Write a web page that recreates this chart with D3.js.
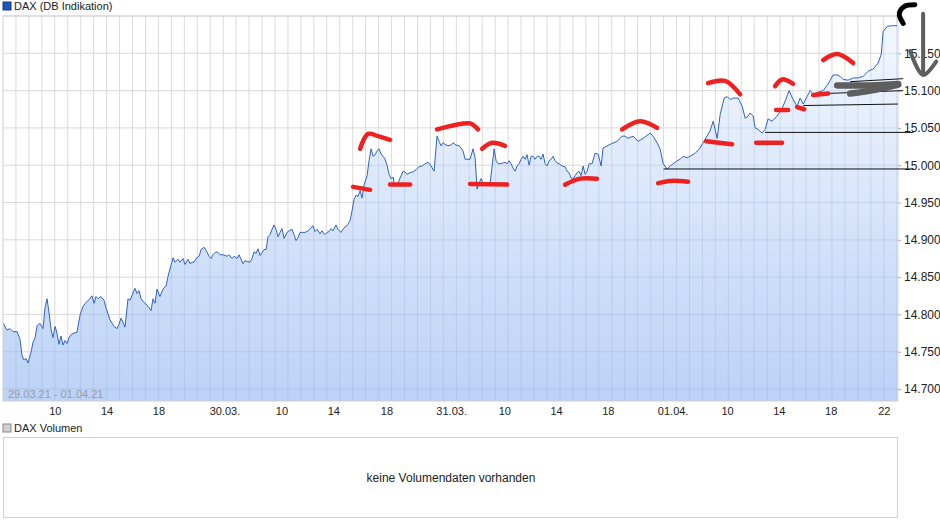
<!DOCTYPE html>
<html><head><meta charset="utf-8">
<script src="https://cdn.jsdelivr.net/npm/d3@7"></script>
<style>body{margin:0;background:#fff;font-family:Arial,"Liberation Sans",sans-serif}</style>
</head><body><svg id="c" width="940" height="526"></svg>
<script>
// compressed trading hours since start
const times=[0,.31,.54,.77,1.08,1.31,1.47,1.62,1.78,1.93,2.16,2.32,2.47,2.63,2.86,3.09,3.24,3.40,3.55,3.71,3.86,4.02,4.17,4.32,4.48,4.63,4.79,4.94,5.10,5.25,5.48,5.71,5.95,6.18,6.41,6.64,6.87,7.03,7.18,7.34,7.57,7.80,7.95,8.26,8.57,8.80,8.96,9.11,9.27,9.42,9.65,9.81,10.04,10.19,10.35,10.50,10.66,10.89,11.20,11.43,11.58,11.74,11.89,12.12,12.28,12.43,12.59,12.74,12.97,13.13,13.28,13.51,13.67,13.90,14.05,14.29,14.44,14.59,14.75,14.90,15.14,15.29,15.52,15.68,15.91,16.06,16.22,16.45,16.60,16.76,16.99,17.30,17.45,17.68,17.84,18.07,18.22,18.38,18.53,18.69,18.84,19.07,19.23,19.38,19.54,19.69,19.85,20.00,20.15,20.31,20.46,20.62,20.77,20.93,21.08,21.24,21.39,21.54,21.70,21.93,22.08,22.32,22.47,22.63,22.78,22.93,23.09,23.32,23.55,23.78,23.94,24.09,24.25,24.48,24.63,24.86,25.02,25.17,25.33,25.48,25.71,25.87,26.10,26.33,26.56,26.80,26.95,27.10,27.26,27.41,27.57,27.72,27.88,28.11,28.26,28.42,28.57,28.73,28.88,29.03,29.19,29.34,29.50,29.65,29.81,29.96,30.12,30.19,30.35,30.50,30.66,30.89,31.04,31.20,31.43,31.66,31.89,32.12,32.36,32.59,32.82,33.05,33.28,33.51,33.67,33.82,33.98,34.13,34.36,34.59,34.75,34.98,35.21,35.37,35.52,35.68,36.06,36.29,36.45,36.60,36.76,36.91,37.07,37.37,37.61,37.92,38.07,38.22,38.38,38.61,38.76,38.92,39.07,39.23,39.38,39.54,39.69,39.85,40.00,40.15,40.31,40.46,40.62,40.77,40.93,41.08,41.24,41.39,41.54,41.70,41.85,42.01,42.16,42.32,42.47,42.63,42.78,42.93,43.17,43.40,43.55,43.71,43.86,44.02,44.17,44.32,44.48,44.63,44.79,44.94,45.10,45.25,45.48,45.71,45.95,46.18,46.33,46.87,47.41,47.80,48.03,48.26,48.65,49.03,49.42,49.96,50.19,50.50,50.73,50.97,51.27,51.51,51.74,52.05,52.28,52.51,52.82,53.05,53.44,53.82,54.21,54.59,54.83,55.14,55.37,55.68,55.91,56.14,56.37,56.76,57.07,57.30,57.53,57.68,57.92,58.07,58.30,58.61,58.84,59.07,59.38,59.77,60.15,60.39,60.69,61.00,61.31,61.54,61.78,62.08,62.32,62.55,62.93,63.32,63.71,64.09,64.40,64.63,64.86,65.25,65.64,66.02,66.41,66.80,67.18,67.57,67.81,67.95,68.26,68.65,69.03];
const prices=[14789,14779,14781,14777,14777,14767,14745,14739,14741,14735,14749,14763,14768,14785,14788,14781,14808,14821,14803,14780,14769,14784,14775,14760,14771,14759,14765,14761,14769,14773,14775,14776,14799,14811,14816,14820,14825,14815,14824,14821,14824,14819,14809,14793,14784,14781,14787,14795,14789,14783,14821,14819,14829,14835,14828,14832,14821,14816,14811,14805,14821,14815,14834,14824,14831,14836,14838,14851,14866,14876,14870,14874,14870,14875,14867,14874,14868,14870,14870,14875,14878,14887,14890,14886,14878,14875,14880,14884,14883,14880,14880,14878,14880,14875,14878,14875,14880,14874,14868,14872,14871,14870,14875,14884,14882,14888,14879,14883,14887,14887,14904,14907,14914,14920,14914,14904,14910,14915,14902,14910,14912,14914,14907,14899,14903,14910,14910,14910,14912,14916,14919,14911,14914,14908,14912,14907,14910,14911,14915,14912,14920,14914,14910,14916,14919,14926,14939,14954,14960,14958,14966,14956,14974,14986,15006,15022,15012,15014,15019,15022,15015,15012,15008,15000,14988,14982,14984,14976,14975,14976,14983,14992,14991,14988,14990,14991,14994,14998,14999,15002,15004,14999,14992,15039,15032,15026,15030,15028,15026,15027,15030,15027,15026,15023,15019,15008,15008,15022,15010,14968,14976,14982,14976,14975,14976,15022,15006,15002,15002,15003,15004,15002,15006,15002,14996,14992,14999,15002,15008,15012,15008,15014,15000,15012,15012,15008,15012,15012,15008,15015,15002,14999,15006,15008,15012,15006,15003,15002,14999,14998,14992,14990,14983,14982,14986,14990,14992,14986,14999,14988,14992,15002,15002,15016,15015,14999,15023,15028,15032,15039,15039,15036,15039,15032,15036,15043,15039,15030,15022,15002,14995,14999,15002,15006,15008,15012,15010,15012,15016,15023,15035,15046,15059,15036,15068,15090,15092,15088,15090,15090,15079,15063,15066,15070,15066,15050,15048,15043,15048,15062,15059,15066,15076,15086,15100,15088,15079,15090,15082,15092,15100,15095,15098,15100,15109,15121,15121,15119,15115,15114,15117,15117,15119,15126,15129,15137,15149,15179,15186,15187,15187];
const xTickPos=[4.0,8.0,12.0,17.1,21.5,25.5,29.6,34.6,38.7,42.7,46.7,51.7,55.9,59.9,63.9,68.0];
const xTickLabels=["10","14","18","30.03.","10","14","18","31.03.","10","14","18","01.04.","10","14","18","22"];
const yTicks=[14700,14750,14800,14850,14900,14950,15000,15050,15100,15150];
const yTickLabels=["14.700","14.750","14.800","14.850","14.900","14.950","15.000","15.050","15.100","15.150"];
// hand-drawn annotations, in [time, price]
const redMarks=[
 [[27.03,14971],[28.34,14967]],
 [[27.57,15022],[28.19,15042],[28.96,15039],[29.88,15034]],
 [[29.88,14974],[31.43,14974]],
 [[33.51,15048],[34.90,15054],[36.06,15056],[36.68,15048]],
 [[36.06,14975],[38.92,14974]],
 [[36.99,15022],[37.76,15030],[38.76,15026]],
 [[43.40,14974],[44.56,14982],[45.87,14982]],
 [[47.80,15048],[49.19,15059],[50.5,15050]],
 [[50.58,14976],[51.51,14979],[52.90,14978]],
 [[54.44,15110],[55.75,15113],[56.91,15095]],
 [[54.29,15032],[56.29,15028]],
 [[58.15,15030],[60.15,15030]],
 [[59.61,15106],[60.15,15115],[61.00,15109]],
 [[59.69,15074],[60.62,15074]],
 [[61.31,15078],[61.85,15075]],
 [[62.55,15094],[63.71,15096]],
 [[63.32,15141],[64.40,15149],[65.64,15137]]];
const blackLines=[
 [[51.0,14995],[70.3,14995]],
 [[58.84,15044],[70.3,15044]],
 [[61.78,15080],[69.1,15082]],
 [[63.32,15096],[69.5,15100]],
 [[65.4,15112],[69.5,15116]]];
const grayMarks=[
 [[64.40,15107],[66.95,15107],[69.11,15109]],
 [[65.41,15096],[67.34,15101],[69.11,15108]],
 [[71.04,15203],[71.04,15123]],
 [[70.04,15153],[71.04,15121],[72.05,15139]]];
const blackHook=[[70.4,15215],[69.6,15213],[69.2,15203],[69.5,15190]];

const svg=d3.select("#c");
const L=3,R=898,T=16,B=401;
const x=d3.scaleLinear().domain([0,69.1]).range([L,R]);
const y=d3.scaleLinear().domain([14684,15200]).range([B,T]);
const data=times.map((t,i)=>({t,p:prices[i]}));

const defs=svg.append("defs");
const g=defs.append("linearGradient").attr("id","fg").attr("x1",0).attr("y1",0).attr("x2",0).attr("y2",1);
g.append("stop").attr("offset","0%").attr("stop-color","#f3f7fe");
g.append("stop").attr("offset","100%").attr("stop-color","#bcd2f6");

svg.append("rect").attr("x",3).attr("y",2).attr("width",8).attr("height",8).attr("fill","#1f55b8").attr("stroke","#123a80");
svg.append("text").attr("x",14).attr("y",10).attr("font-size",11).attr("fill","#222").text("DAX (DB Indikation)");

function drawGrid(color){
  const gg=svg.append("g");
  d3.range(1,70,1).forEach(h=>gg.append("line").attr("x1",x(h)).attr("x2",x(h)).attr("y1",T).attr("y2",B).attr("stroke",color));
  yTicks.concat([15200]).forEach(v=>gg.append("line").attr("x1",L).attr("x2",R).attr("y1",y(v)).attr("y2",y(v)).attr("stroke",color));
  return gg;
}
drawGrid("#dadada");
const area=d3.area().x(d=>x(d.t)).y0(B).y1(d=>y(d.p));
svg.append("path").datum(data).attr("fill","url(#fg)").attr("d",area);
defs.append("clipPath").attr("id","ac").append("path").datum(data).attr("d",area);
drawGrid("rgba(120,150,200,0.22)").attr("clip-path","url(#ac)");
svg.append("path").datum(data).attr("fill","none").attr("stroke","#2f62c8").attr("stroke-width",1)
 .attr("d",d3.line().x(d=>x(d.t)).y(d=>y(d.p)));
svg.append("rect").attr("x",L).attr("y",T).attr("width",R-L).attr("height",B-T).attr("fill","none").attr("stroke","#cfcfcf");

svg.append("text").attr("x",8).attr("y",398).attr("font-size",11).attr("fill","#9a9aa6").text("29.03.21 - 01.04.21");

const ya=svg.append("g").attr("transform",`translate(${R},0)`)
 .call(d3.axisRight(y).tickValues(yTicks).tickFormat((d,i)=>yTickLabels[i]).tickSize(3));
ya.select(".domain").remove();
ya.selectAll("text").attr("font-size",12).attr("fill","#222").attr("font-family","Arial,'Liberation Sans',sans-serif");
ya.selectAll("line").attr("stroke","#aaa");
const xa=svg.append("g").attr("transform",`translate(0,${B})`)
 .call(d3.axisBottom(x).tickValues(xTickPos).tickFormat((d,i)=>xTickLabels[i]).tickSize(0).tickPadding(6));
xa.select(".domain").remove();
xa.selectAll("text").attr("font-size",11).attr("fill","#222").attr("font-family","Arial,'Liberation Sans',sans-serif");

const ln=d3.line().x(d=>x(d[0])).y(d=>y(d[1])).curve(d3.curveCatmullRom);
blackLines.forEach(s=>svg.append("path").attr("d",ln(s)).attr("fill","none").attr("stroke","#111").attr("stroke-width",1));
redMarks.forEach(s=>svg.append("path").attr("d",ln(s)).attr("fill","none").attr("stroke","#ee2020").attr("stroke-width",4.5).attr("stroke-linecap","round"));
grayMarks.forEach((s,i)=>svg.append("path").attr("d",ln(s)).attr("fill","none").attr("stroke","#5e5e5e").attr("stroke-width",i<2?6.5:4).attr("stroke-linecap","round").attr("stroke-linejoin","round"));
svg.append("path").attr("d",ln(blackHook)).attr("fill","none").attr("stroke","#000").attr("stroke-width",5).attr("stroke-linecap","round");

svg.append("rect").attr("x",3).attr("y",424).attr("width",8).attr("height",8).attr("fill","#d0d0d0").attr("stroke","#888");
svg.append("text").attr("x",14).attr("y",432).attr("font-size",11).attr("fill","#222").text("DAX Volumen");
svg.append("rect").attr("x",3.5).attr("y",437.5).attr("width",894).attr("height",80).attr("fill","#fff").attr("stroke","#d0d0d0");
svg.append("text").attr("x",451).attr("y",482).attr("text-anchor","middle").attr("font-size",12).attr("fill","#222").text("keine Volumendaten vorhanden");
</script></body></html>
